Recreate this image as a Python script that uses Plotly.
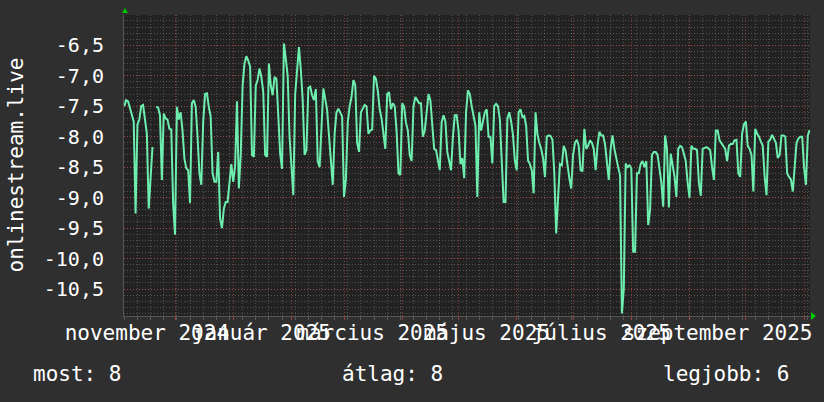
import datetime as dt
import plotly.graph_objects as go

# ---------------- data ----------------
start_date = "2024-11-04"          # first daily sample
values = [
    -7.50, -7.40, -7.42, -7.52, -7.62, -7.75, -9.26, -7.80, -7.72, -7.50,   # 0
    -7.48, -7.75, -7.95, -9.18, -8.60, -8.17, None, -7.51, -7.52, -7.65,    # 10
    -8.71, -7.62, -7.70, -7.72, -7.87, -7.88, -9.09, -9.61, -7.51, -7.72,   # 20
    -7.60, -7.90, -8.36, -8.52, -8.55, -9.09, -7.45, -7.40, -7.51, -8.00,   # 30
    -8.60, -8.79, -7.76, -7.30, -7.29, -7.51, -7.67, -8.60, -8.74, -8.74,   # 40
    -8.25, -9.35, -9.50, -9.18, -9.07, -9.07, -8.80, -8.45, -8.74, -8.49,   # 50
    -7.42, -8.85, -8.30, -7.16, -6.80, -6.68, -6.75, -6.85, -8.30, -8.33,   # 60
    -7.16, -7.07, -6.88, -7.02, -7.27, -8.30, -8.33, -6.80, -7.16, -7.32,   # 70
    -7.02, -7.05, -7.65, -8.28, -8.53, -6.47, -6.72, -7.00, -8.00, -8.44,   # 80
    -8.96, -7.30, -6.88, -6.53, -6.90, -7.40, -8.30, -8.22, -7.20, -7.18,   # 90
    -7.32, -7.40, -7.22, -8.40, -8.50, -7.70, -7.21, -7.38, -7.56, -7.98,   # 100
    -8.47, -8.79, -7.95, -7.60, -7.54, -7.60, -7.67, -8.99, -8.70, -7.76,   # 110
    -7.50, -7.35, -7.07, -7.15, -8.10, -8.25, -7.60, -7.54, -7.48, -7.50,   # 120
    -7.95, -7.90, -7.88, -7.00, -7.05, -7.25, -7.55, -7.70, -7.98, -8.20,   # 130
    -7.30, -7.27, -7.55, -7.45, -7.50, -7.90, -8.60, -8.63, -7.45, -7.51,   # 140
    -7.77, -7.90, -8.30, -8.40, -7.50, -7.35, -7.40, -7.45, -7.45, -8.00,   # 150
    -7.90, -7.60, -7.30, -7.40, -7.75, -8.20, -8.22, -8.40, -8.55, -7.76,   # 160
    -7.65, -7.75, -8.25, -8.40, -8.55, -8.00, -7.65, -7.65, -7.90, -8.45,   # 170
    -8.35, -8.68, -7.60, -7.24, -7.30, -7.50, -7.70, -7.82, -8.99, -7.60,   # 180
    -7.90, -7.72, -7.60, -7.55, -8.00, -8.00, -8.44, -7.50, -7.46, -7.50,   # 190
    -7.72, -8.40, -9.07, -9.07, -7.70, -7.60, -7.75, -7.98, -8.40, -8.55,   # 200
    -7.60, -7.55, -7.68, -7.66, -7.82, -8.39, -8.45, -8.55, -8.93, -7.60,   # 210
    -7.96, -8.10, -8.20, -8.35, -8.66, -8.00, -7.98, -7.99, -8.05, -8.60,   # 220
    -9.59, -9.00, -8.45, -8.47, -8.15, -8.23, -8.47, -8.68, -8.85, -8.30,   # 230
    -8.10, -8.05, -8.15, -8.55, -8.57, -7.87, -8.20, -8.15, -8.06, -8.10,   # 240
    -8.20, -8.55, -8.15, -7.92, -7.98, -7.98, -8.12, -8.40, -8.71, -8.20,   # 250
    -7.98, -8.20, -8.38, -8.50, -8.63, -10.90, -10.50, -8.44, -8.50, -8.47, # 260
    -8.52, -9.89, -9.89, -8.60, -8.60, -8.45, -8.40, -8.50, -8.40, -9.45,   # 270
    -9.20, -8.30, -8.25, -8.25, -8.30, -8.50, -8.75, -9.15, -7.98, -8.20,   # 280
    -9.16, -8.28, -8.50, -8.65, -8.99, -8.20, -8.15, -8.17, -8.28, -8.40,   # 290
    -8.75, -9.00, -8.15, -8.20, -8.20, -8.22, -8.75, -8.97, -8.20, -8.19,   # 300
    -8.17, -8.19, -8.22, -8.50, -8.71, -7.90, -7.90, -8.06, -8.10, -8.15,   # 310
    -8.20, -8.40, -8.15, -8.12, -8.12, -8.06, -8.05, -8.60, -8.66, -7.95,   # 320
    -7.80, -7.75, -8.15, -8.20, -8.30, -8.90, -7.87, -7.95, -8.00, -8.08,   # 330
    -8.15, -8.65, -8.96, -8.08, -8.05, -7.97, -8.05, -8.10, -8.35, -8.30,   # 340
    -7.98, -7.98, -8.00, -8.60, -8.66, -8.70, -8.90, -8.40, -8.10, -8.03,   # 350
    -8.00, -8.00, -8.50, -8.79, -7.98, -7.89,                               # 360
]

x_range = ["2024-11-03 20:00", "2025-11-04 04:00"]
y_range = [-10.943, -6.003]

y_tick_values = [-6.5, -7.0, -7.5, -8.0, -8.5, -9.0, -9.5, -10.0, -10.5]
y_tick_labels = ["-6,5", "-7,0", "-7,5", "-8,0", "-8,5", "-9,0", "-9,5", "-10,0", "-10,5"]

month_starts = ["2024-12-01", "2025-01-01", "2025-02-01", "2025-03-01", "2025-04-01",
                "2025-05-01", "2025-06-01", "2025-07-01", "2025-08-01", "2025-09-01",
                "2025-10-01", "2025-11-01"]
x_label_dates = ["2024-11-16", "2025-01-16", "2025-03-16", "2025-05-16",
                 "2025-07-16", "2025-09-16"]
x_label_texts = ["november 2024", "január 2025", "március 2025", "május 2025",
                 "július 2025", "szeptember 2025"]

series_name = "onlinestream.live"
legend_labels = ["most", "átlag", "legjobb"]
legend_values = [8, 8, 6]

# ---------------- figure ----------------
d0 = dt.datetime.fromisoformat(start_date)
dates = [d0 + dt.timedelta(days=i) for i in range(len(values))]

FONT = "DejaVu Sans Mono"
PAPER = "#2f2f2f"
PLOT = "#222222"
LINE = "#6DEEAF"
MAJOR = "rgba(220,80,80,0.55)"
MINOR = "rgba(170,170,170,0.35)"
GREEN = "#00c800"

fig = go.Figure()
fig.add_trace(go.Scatter(x=dates, y=values, mode="lines",
                         line=dict(color=LINE, width=2),
                         connectgaps=False, hoverinfo="skip", showlegend=False))
# invisible copy to carry the label axis
fig.add_trace(go.Scatter(x=dates, y=values, mode="lines", xaxis="x2",
                         line=dict(color="rgba(0,0,0,0)", width=0),
                         hoverinfo="skip", showlegend=False))

W, H = 824, 402
L, R, T, B = 124, 14, 15, 86
pw, ph = W - L - R, H - T - B

def px_x(p):
    return (p - L) / pw

def px_y(p):
    return (H - B - p) / ph

annotations = [
    dict(text=series_name, textangle=-90, xref="paper", yref="paper",
         x=px_x(15), y=0.5, xanchor="center", yanchor="middle", showarrow=False,
         font=dict(family=FONT, size=21, color="#ffffff")),
]
legend_left = [32, 341, 662]
for lbl, val, lx in zip(legend_labels, legend_values, legend_left):
    annotations.append(dict(text=f"{lbl}: {val}", xref="paper", yref="paper",
                            x=px_x(lx), y=px_y(374), xanchor="left", yanchor="middle",
                            showarrow=False, borderpad=0,
                            font=dict(family=FONT, size=21, color="#ffffff")))

shapes = [
    dict(type="path", xref="paper", yref="paper", layer="above",
         path=f"M {px_x(122)},{px_y(13)} L {px_x(128)},{px_y(13)} L {px_x(125)},{px_y(8)} Z",
         fillcolor=GREEN, line=dict(width=0)),
    dict(type="path", xref="paper", yref="paper", layer="above",
         path=f"M {px_x(811)},{px_y(312)} L {px_x(811)},{px_y(320)} L {px_x(816)},{px_y(316)} Z",
         fillcolor=GREEN, line=dict(width=0)),
]

fig.update_layout(
    width=W, height=H,
    margin=dict(l=L, r=R, t=T, b=B, pad=0),
    paper_bgcolor=PAPER, plot_bgcolor=PLOT,
    font=dict(family=FONT, size=21, color="#ffffff"),
    showlegend=False,
    annotations=annotations,
    shapes=shapes,
    xaxis=dict(
        type="date", range=x_range,
        tickmode="array", tickvals=month_starts, showticklabels=False,
        showgrid=True, gridcolor=MAJOR, griddash="1px,2px", gridwidth=1,
        ticks="outside", ticklen=3, tickcolor=MAJOR,
        minor=dict(tickmode="linear", tick0="2024-11-11", dtick=7 * 86400000,
                   showgrid=True, gridcolor=MINOR, griddash="1px,2px", gridwidth=1,
                   ticks="outside", ticklen=3, tickcolor=MINOR),
        showline=True, linecolor="#555555", linewidth=1,
        zeroline=False, fixedrange=True,
    ),
    xaxis2=dict(
        type="date", range=x_range, overlaying="x", anchor="y", side="bottom",
        tickmode="array", tickvals=x_label_dates, ticktext=x_label_texts,
        tickangle=0, showgrid=False, ticks="", ticklabelstandoff=2,
        tickfont=dict(family=FONT, size=21, color="#ffffff"),
        showline=False, zeroline=False, fixedrange=True,
    ),
    yaxis=dict(
        range=y_range,
        tickmode="array", tickvals=y_tick_values, ticktext=y_tick_labels,
        tickfont=dict(family=FONT, size=20, color="#ffffff"),
        showgrid=True, gridcolor=MAJOR, griddash="1px,2px", gridwidth=1,
        minor=dict(tickmode="linear", tick0=-10.5, dtick=0.1,
                   showgrid=True, gridcolor=MINOR, griddash="1px,2px", gridwidth=1),
        ticks="", ticklabelstandoff=15,
        showline=True, linecolor="#555555", linewidth=1,
        zeroline=False, fixedrange=True,
    ),
)

fig.write_html(
    "out.html",
    config={"displayModeBar": False},
    post_script=f"document.body.style.margin='0';document.body.style.background='{PAPER}';",
)
